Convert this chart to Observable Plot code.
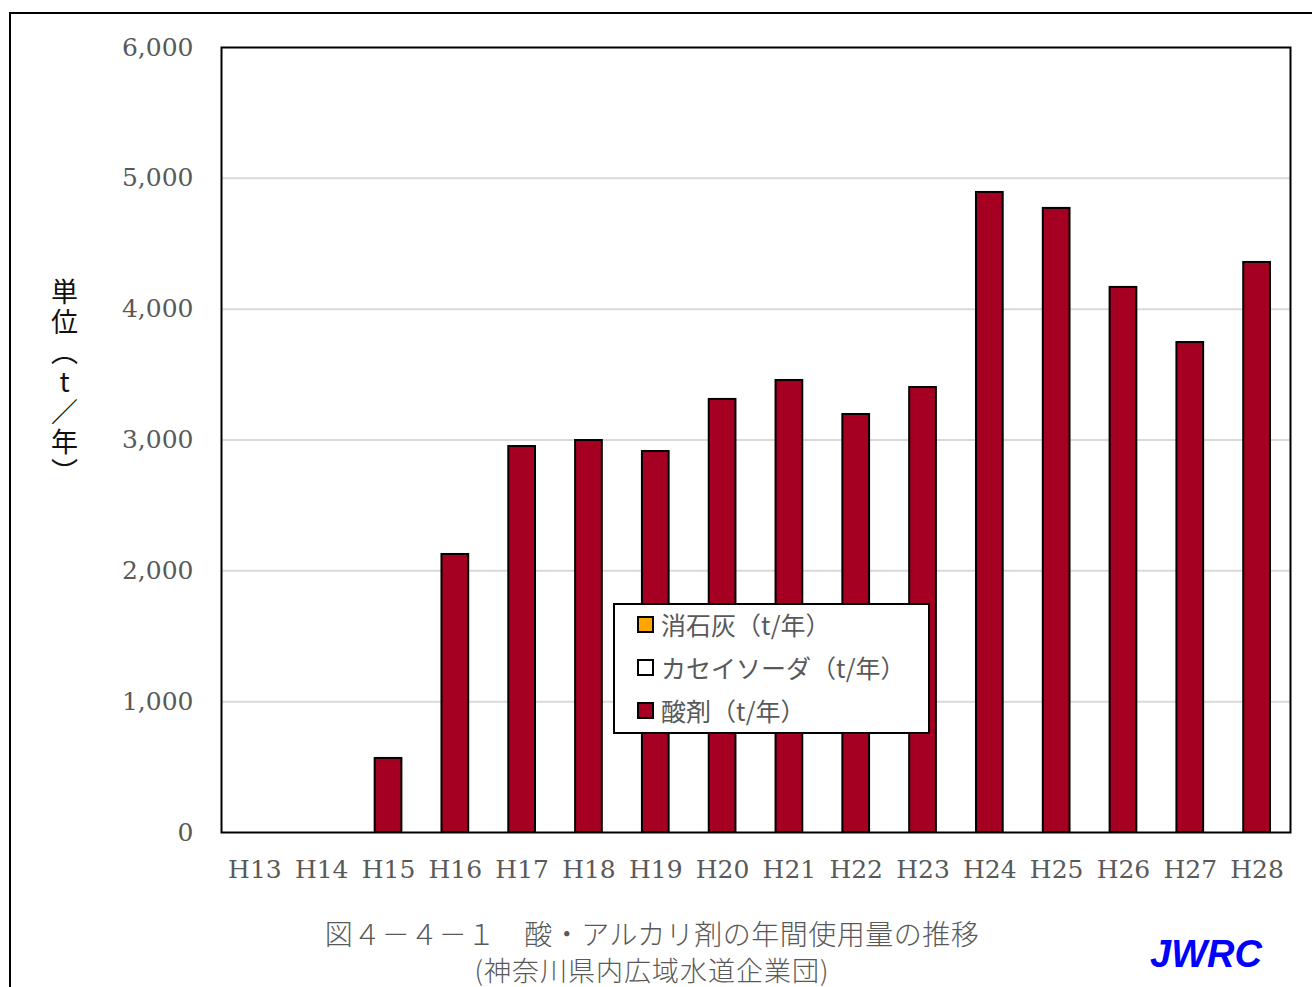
<!DOCTYPE html>
<html><head><meta charset="utf-8">
<script src="https://cdn.jsdelivr.net/npm/d3@7"></script>
<script src="https://cdn.jsdelivr.net/npm/@observablehq/plot@0.6"></script>
<style>
html,body{margin:0;padding:0;background:#fff;width:1312px;height:987px;overflow:hidden;}
#wrap{position:relative;width:1312px;height:987px;}
#border{position:absolute;left:9px;top:12px;width:1320px;height:1000px;border:2px solid #000;box-sizing:border-box;}
#chart{position:absolute;left:0;top:0;}
#ylabel{position:absolute;left:51px;top:278px;writing-mode:vertical-rl;text-orientation:upright;font-family:"Noto Sans CJK JP";font-size:27px;color:#111;letter-spacing:3px;line-height:1;}
#legend{position:absolute;left:613px;top:603px;width:317px;height:131px;border:2px solid #000;box-sizing:border-box;background:#fff;font-family:"Noto Sans CJK JP";font-size:25px;color:#595959;}
.li{position:absolute;left:22px;display:flex;align-items:center;}
.sw{width:13px;height:13px;border:2px solid #000;margin-right:7px;box-sizing:content-box;}
#cap1{position:absolute;left:-4px;width:1312px;text-align:center;top:918px;line-height:30px;font-family:"Noto Sans CJK JP";font-weight:300;font-size:28px;letter-spacing:0.5px;color:#595959;}
#cap2{position:absolute;left:-4px;width:1312px;text-align:center;top:955px;line-height:30px;font-family:"Noto Sans CJK JP";font-weight:300;font-size:27px;letter-spacing:1px;color:#595959;}
#jwrc{position:absolute;left:1150px;top:933px;font-family:"Liberation Sans",Arial;font-weight:bold;font-style:italic;font-size:38px;color:#0000ff;}
</style></head>
<body><div id="wrap">
<div id="border"></div>
<div id="chart"></div>
<div id="ylabel">単位︵t／年︶</div>
<div id="legend"></div>
<div id="cap1">図４－４－１　酸・アルカリ剤の年間使用量の推移</div>
<div id="cap2">(神奈川県内広域水道企業団)</div>
<div id="jwrc">JWRC</div>
</div>
<script>
const years = ["H13","H14","H15","H16","H17","H18","H19","H20","H21","H22","H23","H24","H25","H26","H27","H28"];
const acid = [0,0,566,2125,2950,2996,2912,3310,3455,3195,3401,4892,4770,4166,3745,4357];
const limeValues = [0,0,0,0,0,0,0,0,0,0,0,0,0,0,0,0];
const sodaValues = [0,0,0,0,0,0,0,0,0,0,0,0,0,0,0,0];
const seriesNames = ["消石灰（t/年）","カセイソーダ（t/年）","酸剤（t/年）"];
const seriesColors = ["#FFA500","#FFFFFF","#A50021"];
const yTicks = [0,1000,2000,3000,4000,5000,6000];

const data = years.map((y,i)=>({year:y, value:acid[i]}));

const plot = Plot.plot({
  width:1312, height:900,
  marginLeft:221, marginRight:22, marginTop:47, marginBottom:68,
  style:{background:"transparent", fontFamily:"'DejaVu Serif', serif", fontSize:"25px", color:"#595959"},
  x:{domain:years, paddingInner:0.6, paddingOuter:0.3, round:false, label:null, tickSize:0, tickPadding:28},
  y:{domain:[0,6000], ticks:yTicks, tickFormat:d3.format(","), label:null, tickSize:0, tickPadding:28},
  marks:[
    Plot.ruleY(yTicks.slice(1,-1), {stroke:"#d9d9d9", strokeWidth:2}),
    Plot.barY(data, {x:"year", y:"value", fill:seriesColors[2], stroke:"#000", strokeWidth:2}),
    Plot.frame({stroke:"#000", strokeWidth:2})
  ]
});
document.getElementById("chart").appendChild(plot);

const leg = document.getElementById("legend");
seriesNames.forEach((n,i)=>{
  const d = document.createElement("div");
  d.className="li"; d.style.top=(1+i*43)+"px";
  d.innerHTML = `<span class="sw" style="background:${seriesColors[i]}"></span><span>${n}</span>`;
  leg.appendChild(d);
});
</script>
</body></html>
